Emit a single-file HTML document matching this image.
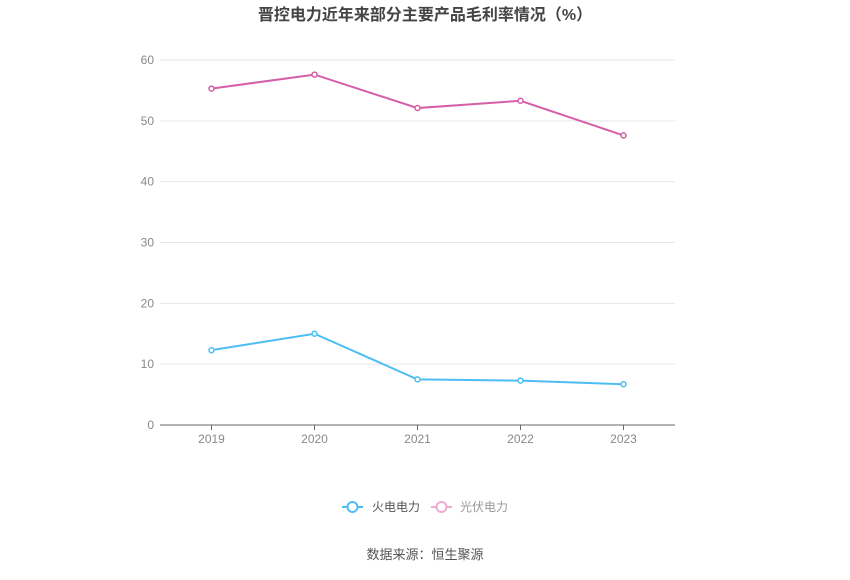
<!DOCTYPE html>
<html><head><meta charset="utf-8"><style>
body{margin:0;background:#fff;font-family:"Liberation Sans","Noto Sans CJK SC",sans-serif;}
</style></head><body>
<svg width="850" height="575" xmlns="http://www.w3.org/2000/svg" font-family="Liberation Sans, Noto Sans CJK SC, sans-serif">
<text x="425" y="20" text-anchor="middle" font-size="16" font-weight="bold" fill="#444">晋控电力近年来部分主要产品毛利率情况（%）</text>
<g id="grid"></g><g id="xaxis"></g><g id="series"></g>
<g>
<g><line x1="342" y1="507" x2="363" y2="507" stroke="#4dbdf5" stroke-width="2"/><circle cx="352.5" cy="507" r="5" fill="#fff" stroke="#4dbdf5" stroke-width="2"/><text x="372" y="511" font-size="12" fill="#555">火电电力</text></g>
<g><line x1="431" y1="507" x2="452" y2="507" stroke="#f0a8d4" stroke-width="2"/><circle cx="441.5" cy="507" r="5" fill="#fff" stroke="#f0a8d4" stroke-width="2"/><text x="460" y="511" font-size="12" fill="#999">光伏电力</text></g>
</g>
<text x="425" y="559" text-anchor="middle" font-size="13" fill="#555">数据来源：恒生聚源</text>
</svg>
<script>
const categories=["2019","2020","2021","2022","2023"];
const thermal=[12.3,15.0,7.5,7.3,6.7];
const pv=[55.3,57.6,52.1,53.3,47.6];
const yTicks=[0,10,20,30,40,50,60];
const ns="http://www.w3.org/2000/svg";
const L=160,R=675,T=60,B=425;
const x=i=>L+(R-L)/categories.length*(i+0.5);
const y=v=>B-(B-T)*v/60;
function mk(t,a,p){const e=document.createElementNS(ns,t);for(const k in a)e.setAttribute(k,a[k]);p.appendChild(e);return e;}
const g=document.getElementById('grid');
yTicks.forEach(v=>{
 const l=mk('line',{x1:L,x2:R,y1:y(v),y2:y(v),stroke:v===0?'#666':'#e3e6ec','stroke-width':1},g);
 
 
 const t=mk('text',{x:L-6,y:y(v)+4,'text-anchor':'end','font-size':12,fill:'#888'},g);t.textContent=v;
 
 
});
const xa=document.getElementById('xaxis');
categories.forEach((c,i)=>{
 const tk=mk('line',{x1:x(i),x2:x(i),y1:B,y2:B+5,stroke:'#666'},xa);
 
 
 const t=mk('text',{x:x(i),y:B+18,'text-anchor':'middle','font-size':12,fill:'#888'},xa);t.textContent=c;
 
 
});
const s=document.getElementById('series');
[[thermal,'#4dbdf5','thermal'],[pv,'#d65fa8','pv']].forEach(([d,c,n])=>{
 const p=mk('polyline',{points:d.map((v,i)=>x(i)+','+y(v)).join(' '),fill:'none',stroke:c,'stroke-width':2},s);
 
 
 d.forEach((v,i)=>{const m=mk('circle',{cx:x(i),cy:y(v),r:2.5,fill:'#fff',stroke:c,'stroke-width':1.5},s);
 
 });
});
</script>
</body></html>
